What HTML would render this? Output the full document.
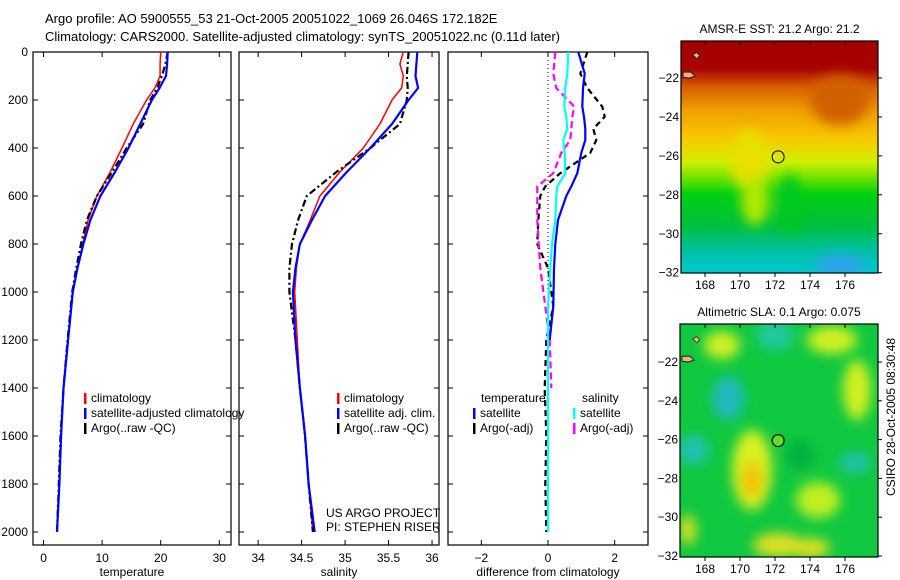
<!DOCTYPE html>
<html><head><meta charset="utf-8"><style>
html,body{margin:0;padding:0;background:#fff;}
svg{display:block;font-family:"Liberation Sans",Arial,sans-serif;}
text{font-size:12px;fill:#000;}
</style></head><body>
<svg id="chart" width="900" height="580" viewBox="0 0 900 580">
<defs>
<filter id="blur6" x="-50%" y="-50%" width="200%" height="200%"><feGaussianBlur stdDeviation="6"/></filter>
<filter id="blur4" x="-50%" y="-50%" width="200%" height="200%"><feGaussianBlur stdDeviation="4"/></filter>
<linearGradient id="sstGrad" x1="0" y1="0" x2="0" y2="1">
<stop offset="0" stop-color="#a00000"/><stop offset="0.12" stop-color="#a80400"/>
<stop offset="0.2" stop-color="#d86000"/><stop offset="0.3" stop-color="#f0a000"/>
<stop offset="0.42" stop-color="#f8c800"/><stop offset="0.52" stop-color="#d0f000"/>
<stop offset="0.6" stop-color="#60e000"/><stop offset="0.66" stop-color="#00d010"/>
<stop offset="0.8" stop-color="#00c040"/><stop offset="0.9" stop-color="#00c0a0"/>
<stop offset="1" stop-color="#00c8d0"/></linearGradient>
<clipPath id="clipMap1"><rect x="681" y="41" width="197" height="232"/></clipPath>
<clipPath id="clipMap2"><rect x="680" y="324" width="198" height="233"/></clipPath>
</defs>
<g>
<text x="45" y="23" font-size="13" style="font-size:13px">Argo profile: AO 5900555_53 21-Oct-2005 20051022_1069 26.046S 172.182E</text>
<text x="45" y="41" style="font-size:13px">Climatology: CARS2000. Satellite-adjusted climatology: synTS_20051022.nc (0.11d later)</text>
</g>
<g id="panels"></g>
<g id="maps"></g>
</svg>
<script>
// ---- data ----
const depths = [0,50,100,150,200,300,400,500,600,700,800,900,1000,1200,1400,1600,1800,2000];
const tempClim = [20.0,19.9,19.9,19.0,17.6,15.3,13.4,11.4,9.1,7.6,6.7,5.8,5.0,4.2,3.4,3.0,2.7,2.3];
const tempSat  = [21.2,21.1,20.9,19.8,18.5,16.5,14.5,12.2,9.7,8.0,6.8,5.8,5.0,4.2,3.4,3.0,2.7,2.3];
const tempArgo = [21.2,20.8,20.2,19.4,18.2,17.0,14.2,11.7,9.1,7.4,6.4,5.6,4.9,4.1,3.4,2.9,2.6,2.3];
const salClim = [35.67,35.63,35.67,35.65,35.54,35.40,35.21,34.94,34.71,34.60,34.48,34.44,34.42,34.45,34.48,34.54,34.58,34.63];
const salSat  = [35.83,35.82,35.81,35.84,35.73,35.54,35.29,35.02,34.77,34.62,34.48,34.43,34.40,34.43,34.48,34.54,34.58,34.65];
const salArgo = [35.73,35.72,35.71,35.72,35.71,35.63,35.29,34.90,34.56,34.46,34.39,34.36,34.36,34.43,34.48,34.54,34.58,34.63];
const diffDepths = [0,90,150,228,270,320,367,420,505,560,600,700,800,900,1060,1200,1400,1600,1800,2000];
const dTempSat  = [0.91,1.10,1.05,1.03,1.08,1.12,1.12,1.0,0.88,0.70,0.55,0.30,0.22,0.18,0.16,0.05,null,null,null,null];
const dTempArgo = [1.18,0.97,1.18,1.63,1.70,1.36,1.45,1.27,0.37,-0.08,-0.23,-0.29,-0.32,0.0,0.16,-0.05,-0.1,-0.05,-0.08,-0.05];
const dSalSat   = [0.61,0.58,0.52,0.49,0.55,0.58,0.46,0.50,0.52,0.28,0.25,0.22,0.12,0.07,0.0,0.0,0.0,0.0,0.0,0.0];
const dSalArgo  = [0.22,0.16,0.25,0.79,0.73,0.70,0.67,0.40,0.16,-0.32,-0.32,-0.32,-0.28,-0.23,-0.08,0.05,0.1,null,null,null];
const depthTicks = [0,200,400,600,800,1000,1200,1400,1600,1800,2000];
const tempTicks = [0,10,20,30];
const salTicks = [34,34.5,35,35.5,36];
const diffTicks = [-2,0,2];
const latTicks = [22,24,26,28,30,32];
const lonTicks = [168,170,172,174,176];

const NS='http://www.w3.org/2000/svg';
function mk(tag, attrs, parent){const e=document.createElementNS(NS,tag);for(const k in attrs)e.setAttribute(k,attrs[k]);parent.appendChild(e);return e;}
const yD = d => 52 + d*0.24;
const panels = document.getElementById('panels');

function drawPanel(name, x0, x1, vmin, vmax, ticks, label, showDepthLabels){
  const g = mk('g',{},panels);
  
  
  const sx = v => x0 + (v-vmin)/(vmax-vmin)*(x1-x0);
  const r = mk('rect',{x:x0,y:52,width:x1-x0,height:493,fill:'none',stroke:'#000','stroke-width':1.2},g);
  
  
  ticks.forEach(t=>{
    const x=sx(t);
    mk('line',{x1:x,y1:545,x2:x,y2:540,stroke:'#000'},g);
    mk('line',{x1:x,y1:52,x2:x,y2:57,stroke:'#000'},g);
    const tx = mk('text',{x:x,y:562,'text-anchor':'middle'},g);
    tx.textContent = (t<0?'\u2212':'')+Math.abs(t);
    
    
  });
  depthTicks.forEach(d=>{
    const y=yD(d);
    mk('line',{x1:x0,y1:y,x2:x0+5,y2:y,stroke:'#000'},g);
    mk('line',{x1:x1,y1:y,x2:x1-5,y2:y,stroke:'#000'},g);
    if(showDepthLabels){
      const tx = mk('text',{x:28,y:y+4,'text-anchor':'end'},g);
      tx.textContent = d;
      
      
    }
  });
  const lt = mk('text',{x:(x0+x1)/2,y:576,'text-anchor':'middle'},g);
  lt.textContent = label;
  
  
  return {g, sx};
}
function line(g, sx, ds, vals, color, width, dash, name){
  let segs=[], cur=[];
  vals.forEach((v,i)=>{ if(v===null){ if(cur.length) segs.push(cur); cur=[]; } else cur.push(sx(v).toFixed(1)+','+yD(ds[i]).toFixed(1)); });
  if(cur.length) segs.push(cur);
  segs.forEach(s=>{
    const p = mk('polyline',{points:s.join(' '),fill:'none',stroke:color,'stroke-width':width,'stroke-dasharray':dash||'none','stroke-linejoin':'round'},g);
    
    
  });
}
function legend(g, x, y, items){
  items.forEach((it,i)=>{
    const yy=y+i*15;
    mk('rect',{x:x,y:yy-9,width:2.5,height:11,fill:it[1]},g);
    const t=mk('text',{x:x+7,y:yy},g);
    t.textContent=it[0];
    
    
  });
}

// Temperature
const p1 = drawPanel('temperature', 33, 231, -1.8, 32, tempTicks, 'temperature', true);
const p1clip = mk('clipPath',{id:'c1'},p1.g); mk('rect',{x:33,y:52,width:198,height:493},p1clip);
const p1l = mk('g',{'clip-path':'url(#c1)'},p1.g);
line(p1l,p1.sx,depths,tempClim,'#ff0000',1.5,null,'temperature-climatology-line');
line(p1l,p1.sx,depths,tempArgo,'#000',2.2,'7 3 2 3','temperature-argo-line');
line(p1l,p1.sx,depths,tempSat,'#0000ff',2.2,null,'temperature-satellite-line');
legend(p1.g, 84, 402, [['climatology','#ff0000'],['satellite-adjusted climatology','#0000ff'],['Argo(..raw -QC)','#000']]);

// Salinity
const p2 = drawPanel('salinity', 239, 439, 33.78, 36.08, salTicks, 'salinity', false);
line(p2.g,p2.sx,depths,salClim,'#ff0000',1.5,null,'salinity-climatology-line');
line(p2.g,p2.sx,depths,salArgo,'#000',2.2,'7 3 2 3','salinity-argo-line');
line(p2.g,p2.sx,depths,salSat,'#0000ff',2.2,null,'salinity-satellite-line');
legend(p2.g, 337, 402, [['climatology','#ff0000'],['satellite adj. clim.','#0000ff'],['Argo(..raw -QC)','#000']]);
const pr1=mk('text',{x:326,y:517},p2.g); pr1.textContent='US ARGO PROJECT';


const pr2=mk('text',{x:326,y:531},p2.g); pr2.textContent='PI: STEPHEN RISER';



// Difference
const p3 = drawPanel('difference', 448, 648, -3, 3, diffTicks, 'difference from climatology', false);
mk('line',{x1:p3.sx(0),y1:52,x2:p3.sx(0),y2:yD(1550),stroke:'#000','stroke-width':1,'stroke-dasharray':'1 3'},p3.g);
line(p3.g,p3.sx,diffDepths,dTempArgo,'#000',2.2,'6 4','diff-temperature-argo-line');
line(p3.g,p3.sx,diffDepths,dSalArgo,'#ff00ff',2.2,'7 4','diff-salinity-argo-line');
line(p3.g,p3.sx,diffDepths,dTempSat,'#0000ff',2.2,null,'diff-temperature-satellite-line');
line(p3.g,p3.sx,diffDepths,dSalSat,'#00ffff',2.2,null,'diff-salinity-satellite-line');
const tl=mk('text',{x:481,y:402},p3.g); tl.textContent='temperature';


const sl=mk('text',{x:582,y:402},p3.g); sl.textContent='salinity';


legend(p3.g, 473, 417, [['satellite','#0000ff'],['Argo(-adj)','#000']]);
legend(p3.g, 573, 417, [['satellite','#00ffff'],['Argo(-adj)','#ff00ff']]);

// ---- Maps ----
const maps=document.getElementById('maps');
function mapFrame(name, x0,y0,x1,y1, lat22y, lat32y, title){
  const g=mk('g',{},maps);
  
  
  const sx = lon => 705 + (lon-168)*17.5;
  const sy = lat => lat22y + (lat-22)*(lat32y-lat22y)/10;
  return {g,sx,sy,fin:()=>{
    mk('rect',{x:x0,y:y0,width:x1-x0,height:y1-y0,fill:'none',stroke:'#000','stroke-width':1.2},g);
    lonTicks.forEach(l=>{const x=sx(l);
      mk('line',{x1:x,y1:y0,x2:x,y2:y0+4,stroke:'#000'},g);mk('line',{x1:x,y1:y1,x2:x,y2:y1+4,stroke:'#000'},g);
      const t=mk('text',{x:x,y:y1+16,'text-anchor':'middle'},g);t.textContent=l;
      
      });
    latTicks.forEach(l=>{const y=sy(l);
      mk('line',{x1:x1,y1:y,x2:x1+4,y2:y,stroke:'#000'},g);
      const t=mk('text',{x:x0-2,y:y+4,'text-anchor':'end'},g);t.textContent='\u2212'+l;
      
      });
    const tt=mk('text',{x:(x0+x1)/2,y:y0-8,'text-anchor':'middle'},g);tt.textContent=title;
    
    
    mk('circle',{cx:sx(172.18),cy:sy(26.05),r:6,fill:'none',stroke:'#000','stroke-width':1},g);
    mk('path',{d:`M${x0+2},${sy(21.7)} l8,0 l4,4 l-6,2 l-6,-1z`,fill:'#f0b080',stroke:'#000','stroke-width':0.8},g);
    mk('path',{d:`M${sx(167.3)},${sy(20.8)} l4,-2 l3,3 l-3,3z`,fill:'#f0b080',stroke:'#000','stroke-width':0.6},g);
  }};
}
const m1=mapFrame('sst-map',681,41,878,273,78,272.7,'AMSR-E SST: 21.2 Argo: 21.2');
mk('rect',{x:681,y:41,width:197,height:232,fill:'url(#sstGrad)'},m1.g);
const c1=mk('g',{'clip-path':'url(#clipMap1)',filter:'url(#blur6)'},m1.g);
mk('ellipse',{cx:840,cy:100,rx:30,ry:25,fill:'#d06000'},c1);
mk('ellipse',{cx:750,cy:160,rx:20,ry:30,fill:'#e8e000'},c1);
mk('ellipse',{cx:755,cy:200,rx:14,ry:25,fill:'#b0e800'},c1);
mk('ellipse',{cx:840,cy:265,rx:25,ry:10,fill:'#30a0f0'},c1);
mk('ellipse',{cx:790,cy:205,rx:12,ry:30,fill:'#00c820'},c1);
m1.fin();

const m2=mapFrame('sla-map',680,324,878,557,362,556,'Altimetric SLA: 0.1 Argo: 0.075');
mk('rect',{x:680,y:324,width:198,height:233,fill:'#10c840'},m2.g);
const c2=mk('g',{'clip-path':'url(#clipMap2)',filter:'url(#blur6)'},m2.g);
[[722,345,18,14,'#d0f020'],[775,335,18,15,'#20c8a0'],[832,340,25,14,'#d0f020'],[728,398,16,22,'#20b8c0'],
 [693,450,16,15,'#20c0b0'],[752,470,20,40,'#d8f020'],[752,480,10,18,'#f0c000'],[857,390,14,30,'#d0f020'],
 [855,463,16,10,'#20c0b0'],[818,500,22,18,'#c0f020'],[778,545,25,12,'#e0e020'],[810,548,20,10,'#e0e020'],
 [688,530,8,15,'#e0e020'],[800,455,15,15,'#00b040']].forEach(e=>{
  const el=mk('ellipse',{cx:e[0],cy:e[1],rx:e[2],ry:e[3],fill:e[4]},c2);
  
  
});
m2.fin();
mk('circle',{cx:m2.sx(172.18),cy:m2.sy(26.05),r:5,fill:'#60e020'},m2.g);
mk('circle',{cx:m2.sx(172.18),cy:m2.sy(26.05),r:6,fill:'none',stroke:'#000'},m2.g);

const ts=mk('text',{x:0,y:0,'text-anchor':'middle',transform:'translate(895,417) rotate(-90)'},maps);
ts.textContent='CSIRO 28-Oct-2005 08:30:48';


</script>
</body></html>
